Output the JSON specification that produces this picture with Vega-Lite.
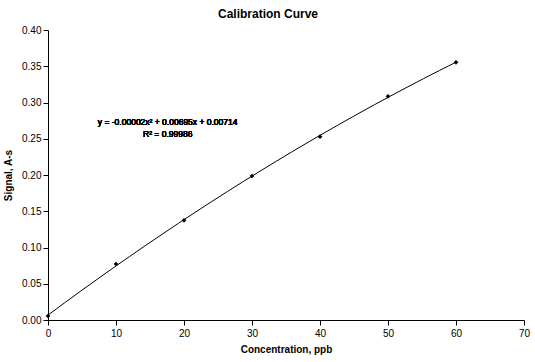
{
  "$schema": "https://vega.github.io/schema/vega-lite/v6.json",
  "width": 476,
  "height": 290,
  "autosize": {"type": "none"},
  "padding": {"left": 48, "top": 30, "right": 11, "bottom": 42},
  "background": "white",
  "title": {
    "text": "Calibration Curve",
    "font": "Liberation Sans",
    "fontSize": 12,
    "fontWeight": "bold",
    "color": "black",
    "anchor": "middle",
    "dx": -18,
    "offset": 4
  },
  "config": {
    "view": {"stroke": null},
    "axis": {
      "grid": false,
      "domainColor": "black",
      "tickColor": "black",
      "labelColor": "black",
      "titleColor": "black",
      "labelFont": "Liberation Sans",
      "titleFont": "Liberation Sans",
      "labelFontSize": 10,
      "titleFontSize": 10,
      "titleFontWeight": "bold",
      "tickSize": 5,
      "domainWidth": 1,
      "tickWidth": 1,
      "labelOverlap": false,
      "labelFlush": false,
      "labelBound": false
    }
  },
  "data": {
    "values": [
      {"conc": 0, "signal": 0.0055},
      {"conc": 10, "signal": 0.0772},
      {"conc": 20, "signal": 0.1375},
      {"conc": 30, "signal": 0.1986},
      {"conc": 40, "signal": 0.2529},
      {"conc": 50, "signal": 0.3085},
      {"conc": 60, "signal": 0.3554}
    ]
  },
  "encoding": {
    "x": {
      "field": "conc",
      "type": "quantitative",
      "scale": {"domain": [0, 70], "nice": false},
      "axis": {"values": [0, 10, 20, 30, 40, 50, 60, 70], "title": "Concentration, ppb", "labelPadding": 3, "titlePadding": 6, "format": "d"}
    },
    "y": {
      "field": "signal",
      "type": "quantitative",
      "scale": {"domain": [0, 0.4], "nice": false},
      "axis": {"values": [0, 0.05, 0.1, 0.15, 0.2, 0.25, 0.3, 0.35, 0.4], "format": ".2f", "title": "Signal, A-s", "labelPadding": 2, "titlePadding": 8}
    }
  },
  "layer": [
    {
      "transform": [
        {"regression": "signal", "on": "conc", "method": "poly", "order": 2}
      ],
      "mark": {"type": "line", "color": "black", "strokeWidth": 1}
    },
    {
      "mark": {"type": "point", "shape": "diamond", "filled": true, "color": "black", "size": 22, "opacity": 1}
    },
    {
      "mark": {"type": "text", "font": "Liberation Sans", "fontSize": 8.5, "color": "black", "align": "center", "baseline": "middle", "lineHeight": 12},
      "encoding": {
        "x": {"datum": 17.6},
        "y": {"datum": 0.273},
        "text": {"value": ["y = -0.00002x² + 0.00695x + 0.00714", "R² = 0.99986"]}
      }
    }
  ]
}
